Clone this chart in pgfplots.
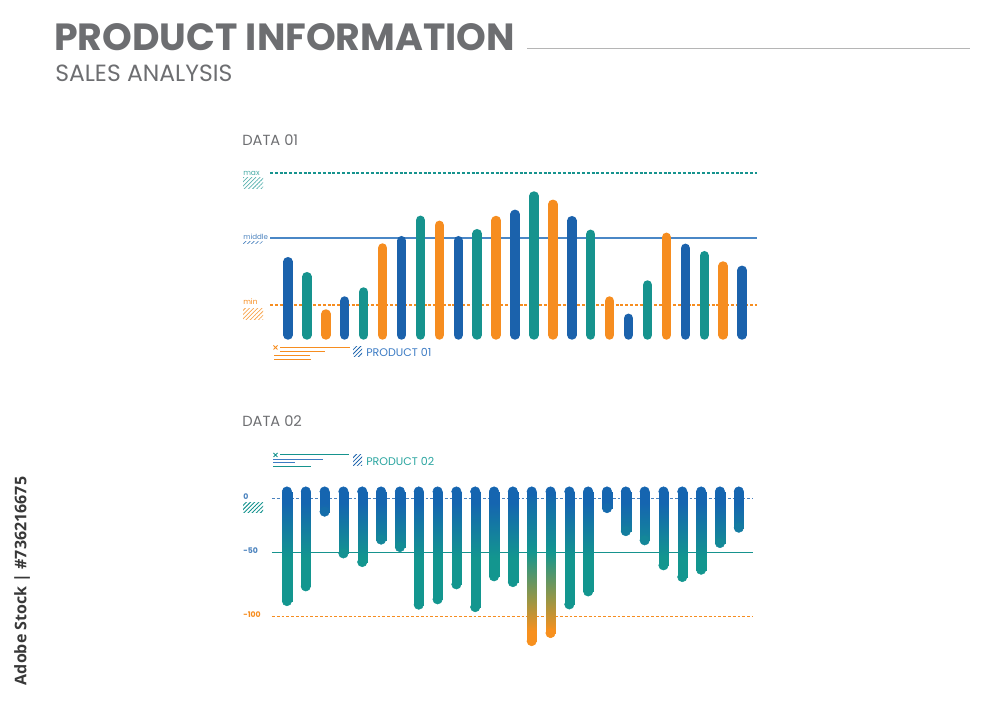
\documentclass[border=0pt]{standalone}
\usepackage{fontspec}
\setmainfont{Poppins}
\newfontfamily\wmfont{Open Sans}
\usepackage{pgfplots}
\usepackage{pgfplotstable}
\pgfplotsset{compat=1.18}
\usetikzlibrary{patterns.meta}
\definecolor{cGray}{HTML}{6D6E71}
\definecolor{cLine}{HTML}{B5B5B5}
\definecolor{cBlue}{HTML}{1B62AC}
\definecolor{cTeal}{HTML}{16938E}
\definecolor{cOrange}{HTML}{F68D20}
\definecolor{cMid}{HTML}{4A87C6}
\definecolor{cBlueG}{HTML}{1565B0}
\definecolor{cTealG}{HTML}{13968F}
\definecolor{cOlive}{HTML}{979646}
\definecolor{cOrangeG}{HTML}{F7901E}
\definecolor{cLabBlue}{HTML}{3D7CC4}
\definecolor{cLabTeal}{HTML}{2BA5A0}

% DATA 01 (bar heights)
\pgfplotstableread{
x y
1 73.3
4 34
7 94.3
10 94.3
13 120.7
16 114.3
19 16.7
22 86.7
25 64.7
}\dataBlue
\pgfplotstableread{
x y
2 58.3
5 43
8 114.7
11 101.3
14 139
17 100.7
20 50
23 79.3
}\dataTeal
\pgfplotstableread{
x y
3 21
6 87
9 109.7
12 114.5
15 130.7
18 34
21 97.7
24 69
}\dataOrange
% DATA 02 (bar ends)
\pgfplotstableread{
x y
1 -86.7
2 -74.2
3 -10.9
4 -46.3
5 -53.6
6 -34.6
7 -40.9
8 -89.7
9 -85.2
10 -72.5
11 -91.8
12 -65.7
13 -70.6
16 -89.5
17 -78.5
18 -7.9
19 -27.4
20 -35.2
21 -56.4
22 -66.3
23 -60.1
24 -37.5
25 -24.5
}\dataTwo
\pgfplotstableread{
x y
14 -120.6
15 -113.8
}\dataTwoPeak

\begin{document}
\begin{tikzpicture}
\path[use as bounding box] (0,0) rectangle (750pt,530.25pt);

% ---------- DATA 01 ----------
\begin{axis}[at={(201.8pt,271.5pt)}, anchor=south west,
  x=14.19pt, y=0.75pt, xmin=0, xmax=26, ymin=-10, ymax=170,
  hide axis, clip=false]
\addplot[cTeal, line width=0.8pt, dash pattern=on 2.2pt off 1.4pt] coordinates {(0.05,162) (25.8,162)};
\addplot[cMid, line width=0.9pt] coordinates {(0.05,97) (25.8,97)};
\addplot[cOrange, line width=0.8pt, dash pattern=on 2.2pt off 1.4pt] coordinates {(0.05,30) (25.8,30)};
\addplot[ycomb, cBlue, line width=7.1pt, line cap=round, mark=none] table {\dataBlue};
\addplot[ycomb, cTeal, line width=7.1pt, line cap=round, mark=none] table {\dataTeal};
\addplot[ycomb, cOrange, line width=7.1pt, line cap=round, mark=none] table {\dataOrange};
\end{axis}

% ---------- DATA 02 ----------
\begin{axis}[at={(201.1pt,36.7pt)}, anchor=south west,
  x=14.12pt, y=0.885pt, xmin=0, xmax=26, ymin=-135, ymax=15,
  hide axis, clip=false,
  point meta min=-125, point meta max=10,
  colormap={gradA}{color(0cm)=(cTealG) color(75cm)=(cTealG) color(122cm)=(cBlueG) color(135cm)=(cBlueG)},
  colormap={gradB}{color(0cm)=(cOrangeG) color(13cm)=(cOrangeG) color(40cm)=(cOlive) color(80cm)=(cTealG) color(131cm)=(cBlueG) color(135cm)=(cBlueG)},
  colormap name=gradA]
\addplot[cBlue!80!white, line width=0.8pt, dash pattern=on 2.2pt off 1.4pt] coordinates {(0.2,0) (25.75,0)};
\addplot[cTeal, line width=0.9pt] coordinates {(0.2,-45.4) (25.75,-45.4)};
\addplot[cOrange, line width=0.8pt, dash pattern=on 2.2pt off 1.4pt] coordinates {(0.2,-100) (25.75,-100)};
\addplot[patch, patch type=rectangle, shader=interp, colormap name=gradA, point meta=y] coordinates {
(0.75,-86.7) (1.25,-86.7) (1.25,6.14) (0.75,6.14)
(1.75,-74.2) (2.25,-74.2) (2.25,6.14) (1.75,6.14)
(2.75,-10.9) (3.25,-10.9) (3.25,6.14) (2.75,6.14)
(3.75,-46.3) (4.25,-46.3) (4.25,6.14) (3.75,6.14)
(4.75,-53.6) (5.25,-53.6) (5.25,6.14) (4.75,6.14)
(5.75,-34.6) (6.25,-34.6) (6.25,6.14) (5.75,6.14)
(6.75,-40.9) (7.25,-40.9) (7.25,6.14) (6.75,6.14)
(7.75,-89.7) (8.25,-89.7) (8.25,6.14) (7.75,6.14)
(8.75,-85.2) (9.25,-85.2) (9.25,6.14) (8.75,6.14)
(9.75,-72.5) (10.25,-72.5) (10.25,6.14) (9.75,6.14)
(10.75,-91.8) (11.25,-91.8) (11.25,6.14) (10.75,6.14)
(11.75,-65.7) (12.25,-65.7) (12.25,6.14) (11.75,6.14)
(12.75,-70.6) (13.25,-70.6) (13.25,6.14) (12.75,6.14)
(15.75,-89.5) (16.25,-89.5) (16.25,6.14) (15.75,6.14)
(16.75,-78.5) (17.25,-78.5) (17.25,6.14) (16.75,6.14)
(17.75,-7.9) (18.25,-7.9) (18.25,6.14) (17.75,6.14)
(18.75,-27.4) (19.25,-27.4) (19.25,6.14) (18.75,6.14)
(19.75,-35.2) (20.25,-35.2) (20.25,6.14) (19.75,6.14)
(20.75,-56.4) (21.25,-56.4) (21.25,6.14) (20.75,6.14)
(21.75,-66.3) (22.25,-66.3) (22.25,6.14) (21.75,6.14)
(22.75,-60.1) (23.25,-60.1) (23.25,6.14) (22.75,6.14)
(23.75,-37.5) (24.25,-37.5) (24.25,6.14) (23.75,6.14)
(24.75,-24.5) (25.25,-24.5) (25.25,6.14) (24.75,6.14)
};
\addplot[patch, patch type=rectangle, shader=interp, colormap name=gradB, point meta=y] coordinates {
(13.75,-45) (14.25,-45) (14.25,6.14) (13.75,6.14)
(13.75,-85) (14.25,-85) (14.25,-45) (13.75,-45)
(13.75,-120.6) (14.25,-120.6) (14.25,-85) (13.75,-85)
(14.75,-45) (15.25,-45) (15.25,6.14) (14.75,6.14)
(14.75,-85) (15.25,-85) (15.25,-45) (14.75,-45)
(14.75,-113.8) (15.25,-113.8) (15.25,-85) (14.75,-85)
};
\addplot[only marks, mark=*, mark size=3.56pt, color=cBlueG] coordinates {
(1,6.14) (2,6.14) (3,6.14) (4,6.14) (5,6.14) (6,6.14) (7,6.14) (8,6.14) (9,6.14)
(10,6.14) (11,6.14) (12,6.14) (13,6.14) (14,6.14) (15,6.14) (16,6.14) (17,6.14)
(18,6.14) (19,6.14) (20,6.14) (21,6.14) (22,6.14) (23,6.14) (24,6.14) (25,6.14)};
\addplot[scatter, only marks, mark=*, mark size=3.56pt, colormap name=gradA, point meta=y,
  scatter/use mapped color={draw=mapped color, fill=mapped color}] table {\dataTwo};
\addplot[scatter, only marks, mark=*, mark size=3.56pt, colormap name=gradB, point meta=y,
  scatter/use mapped color={draw=mapped color, fill=mapped color}] table {\dataTwoPeak};
\end{axis}

% ---------- texts and decorations (pixel coordinates) ----------
\begin{scope}[x=0.75pt, y=-0.75pt, yshift=530.25pt]
\node[anchor=base west, inner sep=0, text=cGray, font=\fontsize{28.4}{28.4}\selectfont\bfseries] at (54,51) {PRODUCT INFORMATION};
\node[anchor=base west, inner sep=0, text=cGray, font=\fontsize{17.6}{17.6}\selectfont] at (55,81.5) {SALES ANALYSIS};
\draw[cLine, line width=0.8pt] (527,48.5) -- (970,48.5);

\node[anchor=base west, inner sep=0, text=cGray, font=\fontsize{11}{11}\selectfont] at (242,145.5) {DATA 01};
\node[anchor=base west, inner sep=0, text=cGray, font=\fontsize{11}{11}\selectfont] at (242,426.5) {DATA 02};

% DATA 01 side labels
\node[anchor=base west, inner sep=0, text=cTeal!80, font=\fontsize{5.6}{5.6}\selectfont] at (243,175.5) {max};
\fill[pattern={Lines[angle=45,distance=2.2pt,line width=0.55pt]}, pattern color=cTeal!70] (243,178) rectangle (263,189);
\node[anchor=base west, inner sep=0, text=cBlue!80, font=\fontsize{5.3}{5.3}\selectfont] at (243,240) {middle};
\fill[pattern={Lines[angle=45,distance=2.2pt,line width=0.5pt]}, pattern color=cBlue!80] (243,241.5) rectangle (263,244);
\node[anchor=base west, inner sep=0, text=cOrange, font=\fontsize{5.6}{5.6}\selectfont] at (243,305) {min};
\fill[pattern={Lines[angle=45,distance=2.2pt,line width=0.55pt]}, pattern color=cOrange!80] (243,309) rectangle (263,320);

% legend 1
\draw[cOrange, line width=0.7pt] (273.5,345.5) -- (277.5,349.5) (273.5,349.5) -- (277.5,345.5);
\draw[cOrange, line width=0.75pt] (280,348) -- (350,348);
\draw[cOrange, line width=0.75pt] (280,351.7) -- (325,351.7);
\draw[cOrange, line width=0.75pt] (274,355.7) -- (310,355.7);
\draw[cOrange, line width=0.75pt] (274,359.3) -- (311,359.3);
\fill[pattern={Lines[angle=45,distance=2.2pt,line width=0.6pt]}, pattern color=cBlue] (353,347) rectangle (362,357);
\node[anchor=west, inner sep=0, text=cLabBlue, font=\fontsize{8.3}{8.3}\selectfont] at (366,352.5) {PRODUCT 01};

% legend 2
\draw[cTeal, line width=0.7pt] (273.5,453) -- (277.5,457) (273.5,457) -- (277.5,453);
\draw[cTeal, line width=0.75pt] (280,455) -- (349,455);
\draw[cTeal, line width=0.75pt] (273,466.3) -- (311,466.3);
\draw[cLabBlue, line width=0.75pt] (273,459.3) -- (323,459.3);
\draw[cLabBlue, line width=0.75pt] (273,463) -- (295,463);
\fill[pattern={Lines[angle=45,distance=2.2pt,line width=0.6pt]}, pattern color=cBlue] (353,455) rectangle (362,466);
\node[anchor=west, inner sep=0, text=cLabTeal, font=\fontsize{8.3}{8.3}\selectfont] at (366,461) {PRODUCT 02};

% DATA 02 side labels
\node[anchor=base west, inner sep=0, text=cBlue!80, font=\fontsize{5.8}{5.8}\selectfont\bfseries] at (243,500) {0};
\fill[pattern={Lines[angle=45,distance=2.2pt,line width=0.7pt]}, pattern color=cTeal] (243,503) rectangle (263,513);
\node[anchor=base west, inner sep=0, text=cBlue!80, font=\fontsize{5.8}{5.8}\selectfont\bfseries] at (243,553.5) {-50};
\node[anchor=base west, inner sep=0, text=cOrange, font=\fontsize{5.8}{5.8}\selectfont\bfseries] at (243,617.5) {-100};

% side caption
\node[rotate=90, inner sep=0, text=black!78, font=\wmfont\bfseries\fontsize{12}{12}\selectfont] at (22,581) {Adobe Stock | \#736216675};
\end{scope}
\end{tikzpicture}
\end{document}
